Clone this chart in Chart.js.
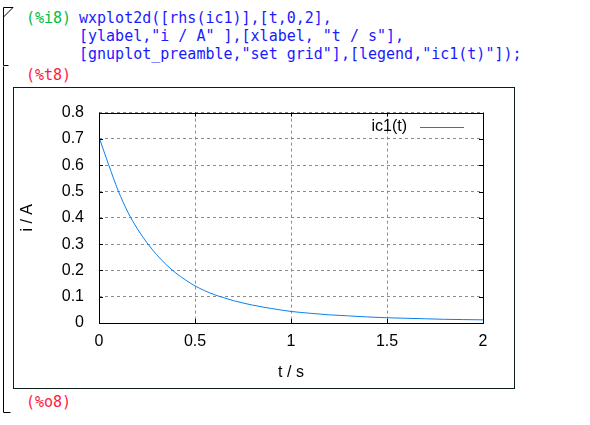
<!DOCTYPE html>
<html>
<head>
<meta charset="utf-8">
<script src="https://cdn.jsdelivr.net/npm/chart.js@4"></script>
<style>
    body { margin: 0; width: 590px; height: 425px; background: #fff; position: relative; overflow: hidden; }
    .code { position: absolute; font-family: "DejaVu Sans Mono", monospace; font-size: 15px; line-height: 18px; white-space: pre; }
    .lbl-in { color: #00c040; }
    .lbl-out { color: #ff1a40; }
    .inp { color: #1a1aff; }
    #box { position: absolute; left: 13px; top: 87px; width: 500px; height: 300px; border: 1px solid #0d1f16; }
    #chart { position: absolute; left: 0; top: 0; }
    svg { position: absolute; left: 0; top: 0; }
</style>
</head>
<body>
<svg width="20" height="425">
    <path d="M3.5 7.5 H13 L3.5 17 M3.5 7.5 V65.5 H8.5" stroke="#000" fill="none" stroke-width="1"/>
    <path d="M3.5 66.5 V412.5 H10.5" stroke="#000" fill="none" stroke-width="1"/>
</svg>
<div class="code lbl-in" style="left:26px; top:9px;">(%i8)</div>
<div class="code inp" style="left:79px; top:9px;">wxplot2d([rhs(ic1)],[t,0,2],
[ylabel,"i / A" ],[xlabel, "t / s"],
[gnuplot_preamble,"set grid"],[legend,"ic1(t)"]);</div>
<div class="code lbl-out" style="left:26px; top:66px;">(%t8)</div>
<div class="code lbl-out" style="left:26px; top:393px;">(%o8)</div>
<div id="box"><canvas id="chart" width="500" height="300"></canvas></div>
<script>
// Werte
const tValues = [0, 0.05, 0.1, 0.15, 0.2, 0.25, 0.3, 0.35, 0.4, 0.45, 0.5, 0.55, 0.6, 0.65, 0.7, 0.8, 0.9, 1.0,
    1.1, 1.2, 1.3, 1.4, 1.5, 1.6, 1.7, 1.8, 1.9, 2.0];
const icValues = [0.707, 0.602, 0.503, 0.422, 0.358, 0.305, 0.260, 0.222, 0.190, 0.164, 0.141, 0.123, 0.108, 0.096, 0.085,
    0.068, 0.055, 0.044, 0.037, 0.031, 0.027, 0.023, 0.020, 0.018, 0.016, 0.014, 0.013, 0.012];
const xTicks = [0, 0.5, 1, 1.5, 2];
const yTicks = [0, 0.1, 0.2, 0.3, 0.4, 0.5, 0.6, 0.7, 0.8];
const seriesLabel = 'ic1(t)';

const points = tValues.map((t, i) => ({ x: t, y: icValues[i] }));
const lineColor = '#0a80f0';
const axisFont = { family: 'Liberation Sans, Arial, sans-serif', size: 16 };

// Rahmen, Ticks nach innen und Legende im Plotbereich (gnuplot-Stil)
const gnuplotFrame = {
    id: 'gnuplotFrame',
    afterDraw(chart) {
        const { ctx, chartArea: a, scales } = chart;
        ctx.save();
        ctx.strokeStyle = '#000';
        ctx.lineWidth = 1;
        ctx.beginPath();
        xTicks.forEach(v => {
            const x = Math.round(scales.x.getPixelForValue(v)) + 0.5;
            ctx.moveTo(x, a.bottom); ctx.lineTo(x, a.bottom - 4);
            ctx.moveTo(x, a.top); ctx.lineTo(x, a.top + 4);
        });
        yTicks.forEach(v => {
            const y = Math.round(scales.y.getPixelForValue(v)) + 0.5;
            ctx.moveTo(a.left, y); ctx.lineTo(a.left + 4, y);
            ctx.moveTo(a.right, y); ctx.lineTo(a.right - 4, y);
        });
        ctx.stroke();
        ctx.strokeRect(Math.round(a.left) + 0.5, Math.round(a.top) + 0.5,
            Math.round(a.right - a.left), Math.round(a.bottom - a.top));

        // Legende
        const ly = a.top + 14;
        ctx.font = '16px Liberation Sans, Arial, sans-serif';
        ctx.fillStyle = '#000';
        ctx.textAlign = 'right';
        ctx.textBaseline = 'middle';
        ctx.fillText(chart.data.datasets[0].label, a.right - 76, ly);
        ctx.strokeStyle = lineColor;
        ctx.beginPath();
        ctx.moveTo(a.right - 63, Math.round(ly) + 0.5);
        ctx.lineTo(a.right - 19, Math.round(ly) + 0.5);
        ctx.stroke();
        ctx.restore();
    }
};

new Chart(document.getElementById('chart'), {
    type: 'line',
    data: {
        datasets: [{
            label: seriesLabel,
            data: points,
            borderColor: lineColor,
            borderWidth: 1,
            pointRadius: 0,
            fill: false,
            cubicInterpolationMode: 'monotone'
        }]
    },
    options: {
        responsive: false,
        animation: false,
        layout: { padding: { left: 0, right: 31, top: 20, bottom: 0 } },
        plugins: {
            legend: { display: false },
            tooltip: { enabled: false }
        },
        scales: {
            x: {
                type: 'linear',
                min: 0,
                max: 2,
                afterBuildTicks: s => { s.ticks = xTicks.map(v => ({ value: v })); },
                afterFit: s => { s.height = 65; },
                border: { display: false, dash: [3, 3] },
                grid: { color: '#8c8c8c', drawTicks: false, lineWidth: 1 },
                ticks: { color: '#000', font: axisFont, padding: 9, maxRotation: 0,
                    callback: v => String(v) },
                title: { display: true, text: 't / s', color: '#000', font: axisFont, padding: { top: 0, bottom: 6 } }
            },
            y: {
                min: 0,
                max: 0.8,
                afterBuildTicks: s => { s.ticks = yTicks.map(v => ({ value: v })); },
                afterFit: s => { s.width = 85; },
                border: { display: false, dash: [3, 3] },
                grid: { color: '#8c8c8c', drawTicks: false, lineWidth: 1 },
                ticks: { color: '#000', font: axisFont, padding: 15,
                    callback: v => String(Number(v.toFixed(1))) },
                title: { display: true, text: 'i / A', color: '#000', font: axisFont, padding: { top: 4, bottom: 0 } }
            }
        }
    },
    plugins: [gnuplotFrame]
});
</script>
</body>
</html>
